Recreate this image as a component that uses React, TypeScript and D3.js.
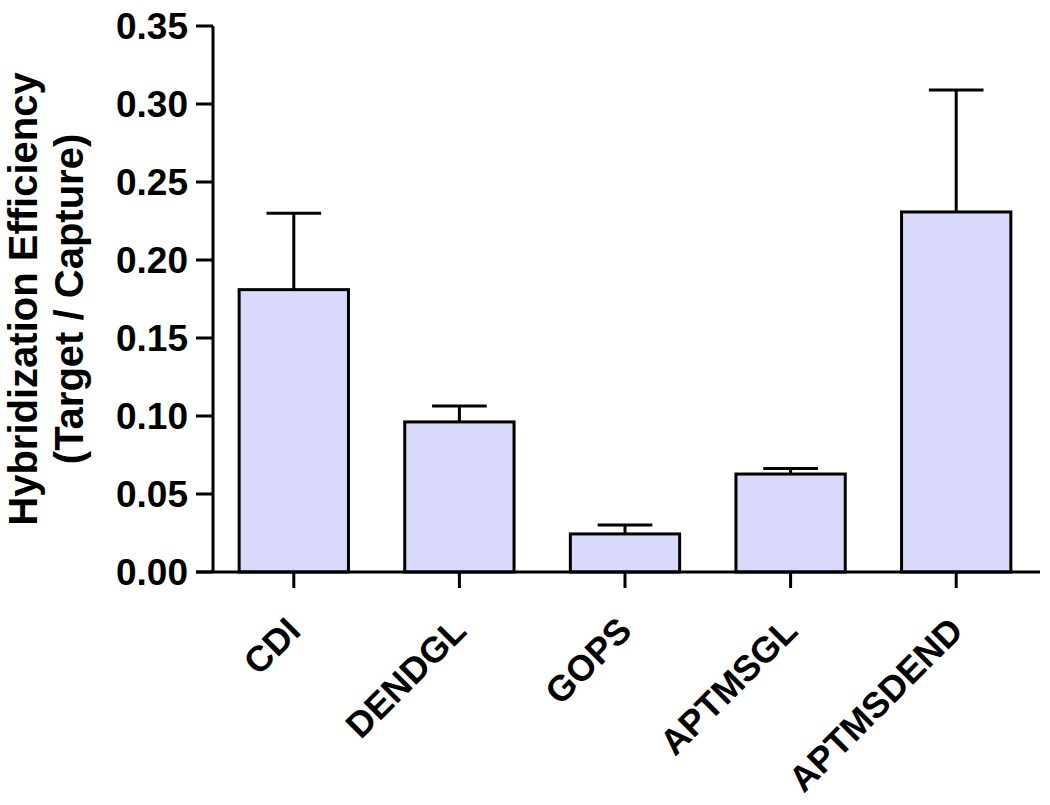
import React from 'react';
import * as d3 from 'd3';

// values
const categories = ['CDI', 'DENDGL', 'GOPS', 'APTMSGL', 'APTMSDEND'];
const means = [0.181, 0.0962, 0.0244, 0.0628, 0.2308];
const errors = [0.049, 0.0102, 0.0057, 0.0035, 0.0782];
const yTicks = [0, 0.05, 0.1, 0.15, 0.2, 0.25, 0.3, 0.35];

const W = 1050;
const H = 805;
const font = '"Liberation Sans", Arial, Helvetica, sans-serif';

const App = () => {
  // axis origin
  const x0 = 213;
  const y0 = 572;

  const x = d3
    .scaleBand<string>()
    .domain(categories)
    .range([211, 1039])
    .paddingInner(0.34)
    .paddingOuter(0.17);

  const y = d3.scaleLinear().domain([0, 0.35]).range([y0, 26]);

  const bw = x.bandwidth();
  const fmt = d3.format('.2f');

  return (
    <svg
      width={W}
      height={H}
      style={{ position: 'absolute', left: 0, top: 0, background: '#fff' }}
      fontFamily={font}
      fontWeight="bold"
    >
      {/* bars */}
      {categories.map((c, i) => {
        const cx = x(c)! + bw / 2;
        return (
          <g key={c}>
            <line
              x1={cx}
              x2={cx}
              y1={y(means[i])}
              y2={y(means[i] + errors[i])}
              stroke="#000"
              strokeWidth={3}
            />
            <line
              x1={cx - bw / 4}
              x2={cx + bw / 4}
              y1={y(means[i] + errors[i])}
              y2={y(means[i] + errors[i])}
              stroke="#000"
              strokeWidth={3}
            />
            <rect
              x={x(c)}
              y={y(means[i])}
              width={bw}
              height={y0 - y(means[i])}
              fill="#d9d9fb"
              stroke="#000"
              strokeWidth={3}
            />
          </g>
        );
      })}

      {/* y axis */}
      <line x1={x0} x2={x0} y1={y(0.35)} y2={y0} stroke="#000" strokeWidth={3} />
      {yTicks.map((t) => (
        <g key={t}>
          <line x1={x0 - 17} x2={x0} y1={y(t)} y2={y(t)} stroke="#000" strokeWidth={3} />
          <text
            x={x0 - 25}
            y={y(t)}
            textAnchor="end"
            dominantBaseline="central"
            fontSize={37}
          >
            {fmt(t)}
          </text>
        </g>
      ))}

      {/* x axis */}
      <line x1={x0 - 17} x2={1040} y1={y0} y2={y0} stroke="#000" strokeWidth={3} />
      {categories.map((c) => {
        const cx = x(c)! + bw / 2;
        return (
          <g key={c}>
            <line x1={cx} x2={cx} y1={y0} y2={y0 + 16} stroke="#000" strokeWidth={3} />
            <text
              transform={`translate(${cx},${y0 + 52}) rotate(-45)`}
              textAnchor="end"
              dominantBaseline="central"
              fontSize={36}
            >
              {c}
            </text>
          </g>
        );
      })}

      {/* y title */}
      <g transform={`translate(37,${(y(0.35) + y0) / 2}) rotate(-90)`}>
        <text textAnchor="middle" fontSize={40}>
          Hybridization Efficiency
        </text>
        <text textAnchor="middle" fontSize={40} y={46}>
          (Target / Capture)
        </text>
      </g>
    </svg>
  );
};

export default App;
